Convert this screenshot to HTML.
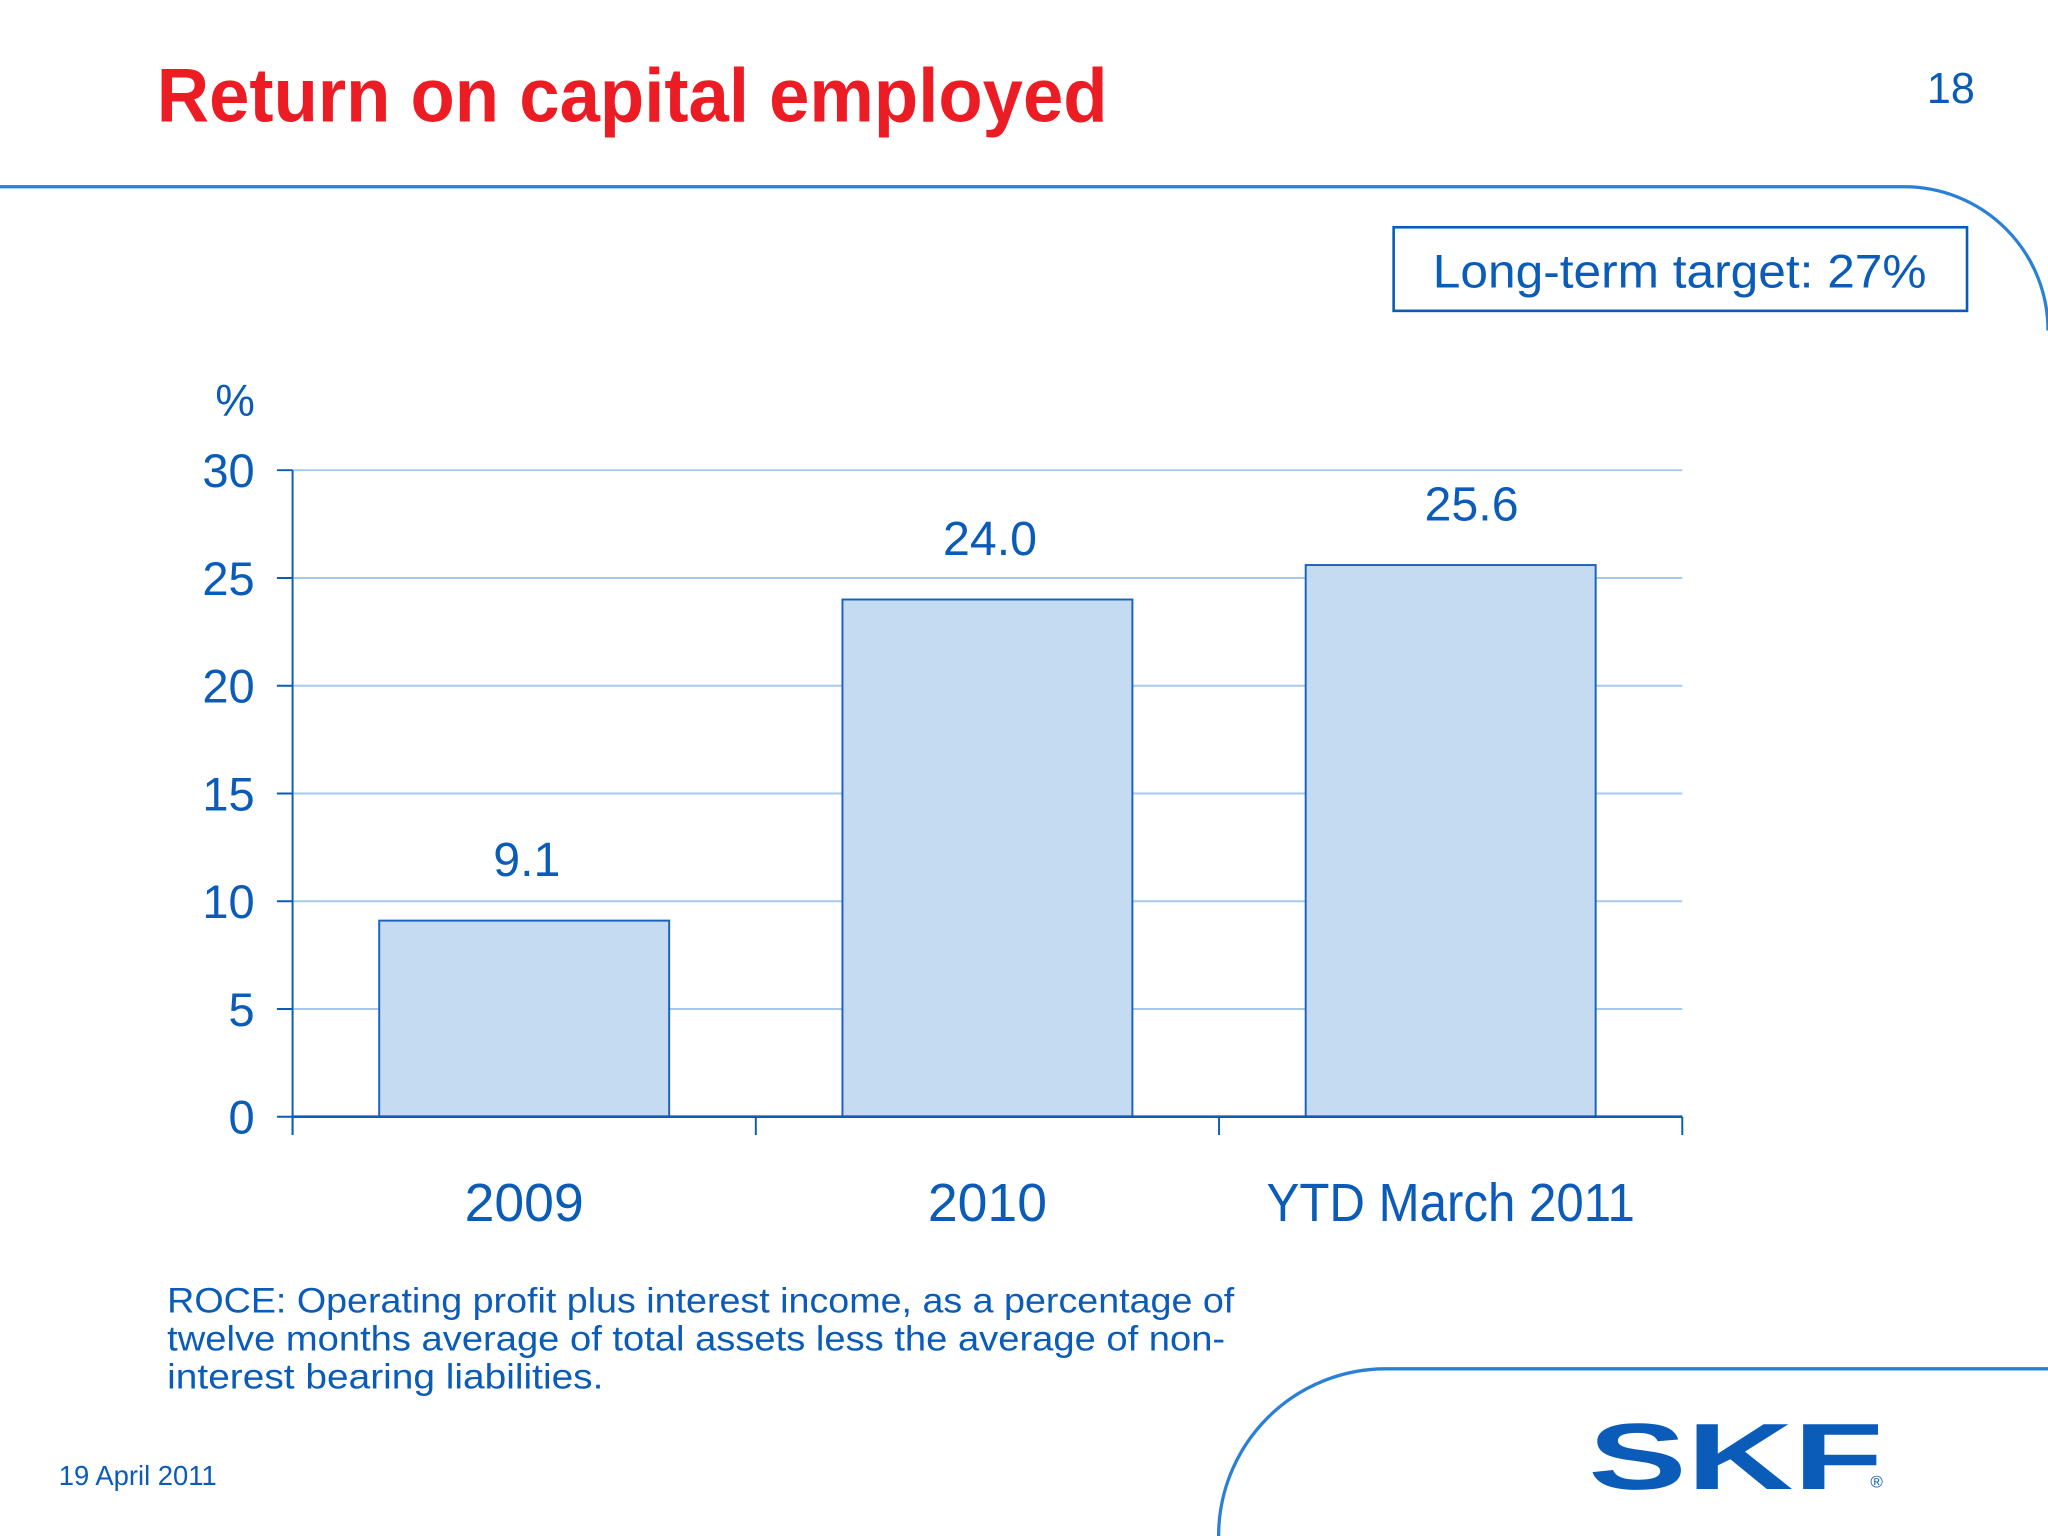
<!DOCTYPE html>
<html><head><meta charset="utf-8"><style>
html,body{margin:0;padding:0;background:#fff;}
svg{display:block;}
text{font-family:"Liberation Sans",sans-serif;}
</style></head><body>
<svg id="chart" width="2048" height="1536" viewBox="0 0 1568 1176" xmlns="http://www.w3.org/2000/svg">
<rect width="1568" height="1176" fill="#fff"/>
<text x="120" y="93" font-size="58" font-weight="bold" fill="#ec1c24" textLength="728" lengthAdjust="spacingAndGlyphs">Return on capital employed</text>
<text x="1512" y="79" font-size="33" fill="#0a5cb8" text-anchor="end">18</text>
<path d="M0 143 H1458 A110 110 0 0 1 1568 253" fill="none" stroke="#2a7fd6" stroke-width="2.5"/>
<rect x="1067" y="174" width="439" height="64" fill="#fff" stroke="#0a5cb8" stroke-width="2"/>
<text x="1097" y="220" font-size="36" fill="#0a5cb8" textLength="378" lengthAdjust="spacingAndGlyphs">Long-term target: 27%</text>
<text x="180" y="318" font-size="34" fill="#0a5cb8" text-anchor="middle">%</text>
<g id="plot"></g>
<text font-size="27" fill="#0a5cb8">
<tspan x="128" y="1005" textLength="817" lengthAdjust="spacingAndGlyphs">ROCE: Operating profit plus interest income, as a percentage of</tspan>
<tspan x="128" y="1034" textLength="810" lengthAdjust="spacingAndGlyphs">twelve months average of total assets less the average of non-</tspan>
<tspan x="128" y="1063" textLength="334" lengthAdjust="spacingAndGlyphs">interest bearing liabilities.</tspan>
</text>
<text x="45" y="1137" font-size="21" fill="#0a5cb8">19 April 2011</text>
<path d="M933 1176 A128 128 0 0 1 1061 1048 H1568" fill="none" stroke="#2a7fd6" stroke-width="2.5"/>
<text x="1216" y="1140" font-size="72" font-weight="bold" fill="#0a5cb8" textLength="226" lengthAdjust="spacingAndGlyphs">SKF</text>
<text x="1432" y="1139" font-size="13" fill="#0a5cb8">®</text>
</svg>
<script>
const categories=["2009","2010","YTD March 2011"];
const values=[9.1,24.0,25.6];
const valueLabels=["9.1","24.0","25.6"];
const yTicks=[0,5,10,15,20,25,30];
const NS="http://www.w3.org/2000/svg";
const g=document.getElementById('plot');
const x0=224,x1=1288,yB=855,yT=360,yMax=30;
const band=(x1-x0)/categories.length, bw=222;
const ys=v=>yB-(v/yMax)*(yB-yT);
const xc=i=>x0+band*(i+0.5);
function mk(tag,attrs){const e=document.createElementNS(NS,tag);for(const k in attrs)e.setAttribute(k,attrs[k]);g.appendChild(e);return e;}
yTicks.forEach(t=>{
  if(t>0){const l=mk('line',{x1:x0,x2:x1,y1:ys(t),y2:ys(t),stroke:'#a9c8ea','stroke-width':1.5});
  
  }
  const tk=mk('line',{x1:x0-12,x2:x0,y1:ys(t),y2:ys(t),stroke:'#0a5cb8','stroke-width':1.5});
  
  
  const tx=mk('text',{x:195,y:ys(t)+13,'font-size':36,fill:'#0a5cb8','text-anchor':'end'});
  tx.textContent=t;
  
  
});
const ya=mk('line',{x1:x0,x2:x0,y1:yT,y2:yB+14,stroke:'#0a5cb8','stroke-width':1.5});


categories.forEach((c,i)=>{
  const b=mk('rect',{x:xc(i)-bw/2,y:ys(values[i]),width:bw,height:yB-ys(values[i]),fill:'#c5dbf2',stroke:'#1a62c0','stroke-width':1.5});
  
  
  const v=mk('text',{x:xc(i)+(i==2?16:2),y:ys(values[i])-34,'font-size':37,fill:'#0a5cb8','text-anchor':'middle'});
  v.textContent=valueLabels[i];
  
  
  const xl=mk('text',{x:xc(i),y:935,'font-size':41,fill:'#0a5cb8','text-anchor':'middle'});
  if(i==2){xl.setAttribute('textLength',282);xl.setAttribute('lengthAdjust','spacingAndGlyphs');}
  xl.textContent=c;
  
  
});
for(let i=0;i<=categories.length;i++){
  const t=mk('line',{x1:x0+band*i,x2:x0+band*i,y1:yB,y2:yB+14,stroke:'#0a5cb8','stroke-width':1.5});
  
  
}
const xa=mk('line',{x1:x0,x2:x1,y1:yB,y2:yB,stroke:'#0a5cb8','stroke-width':2});


</script>
</body></html>
